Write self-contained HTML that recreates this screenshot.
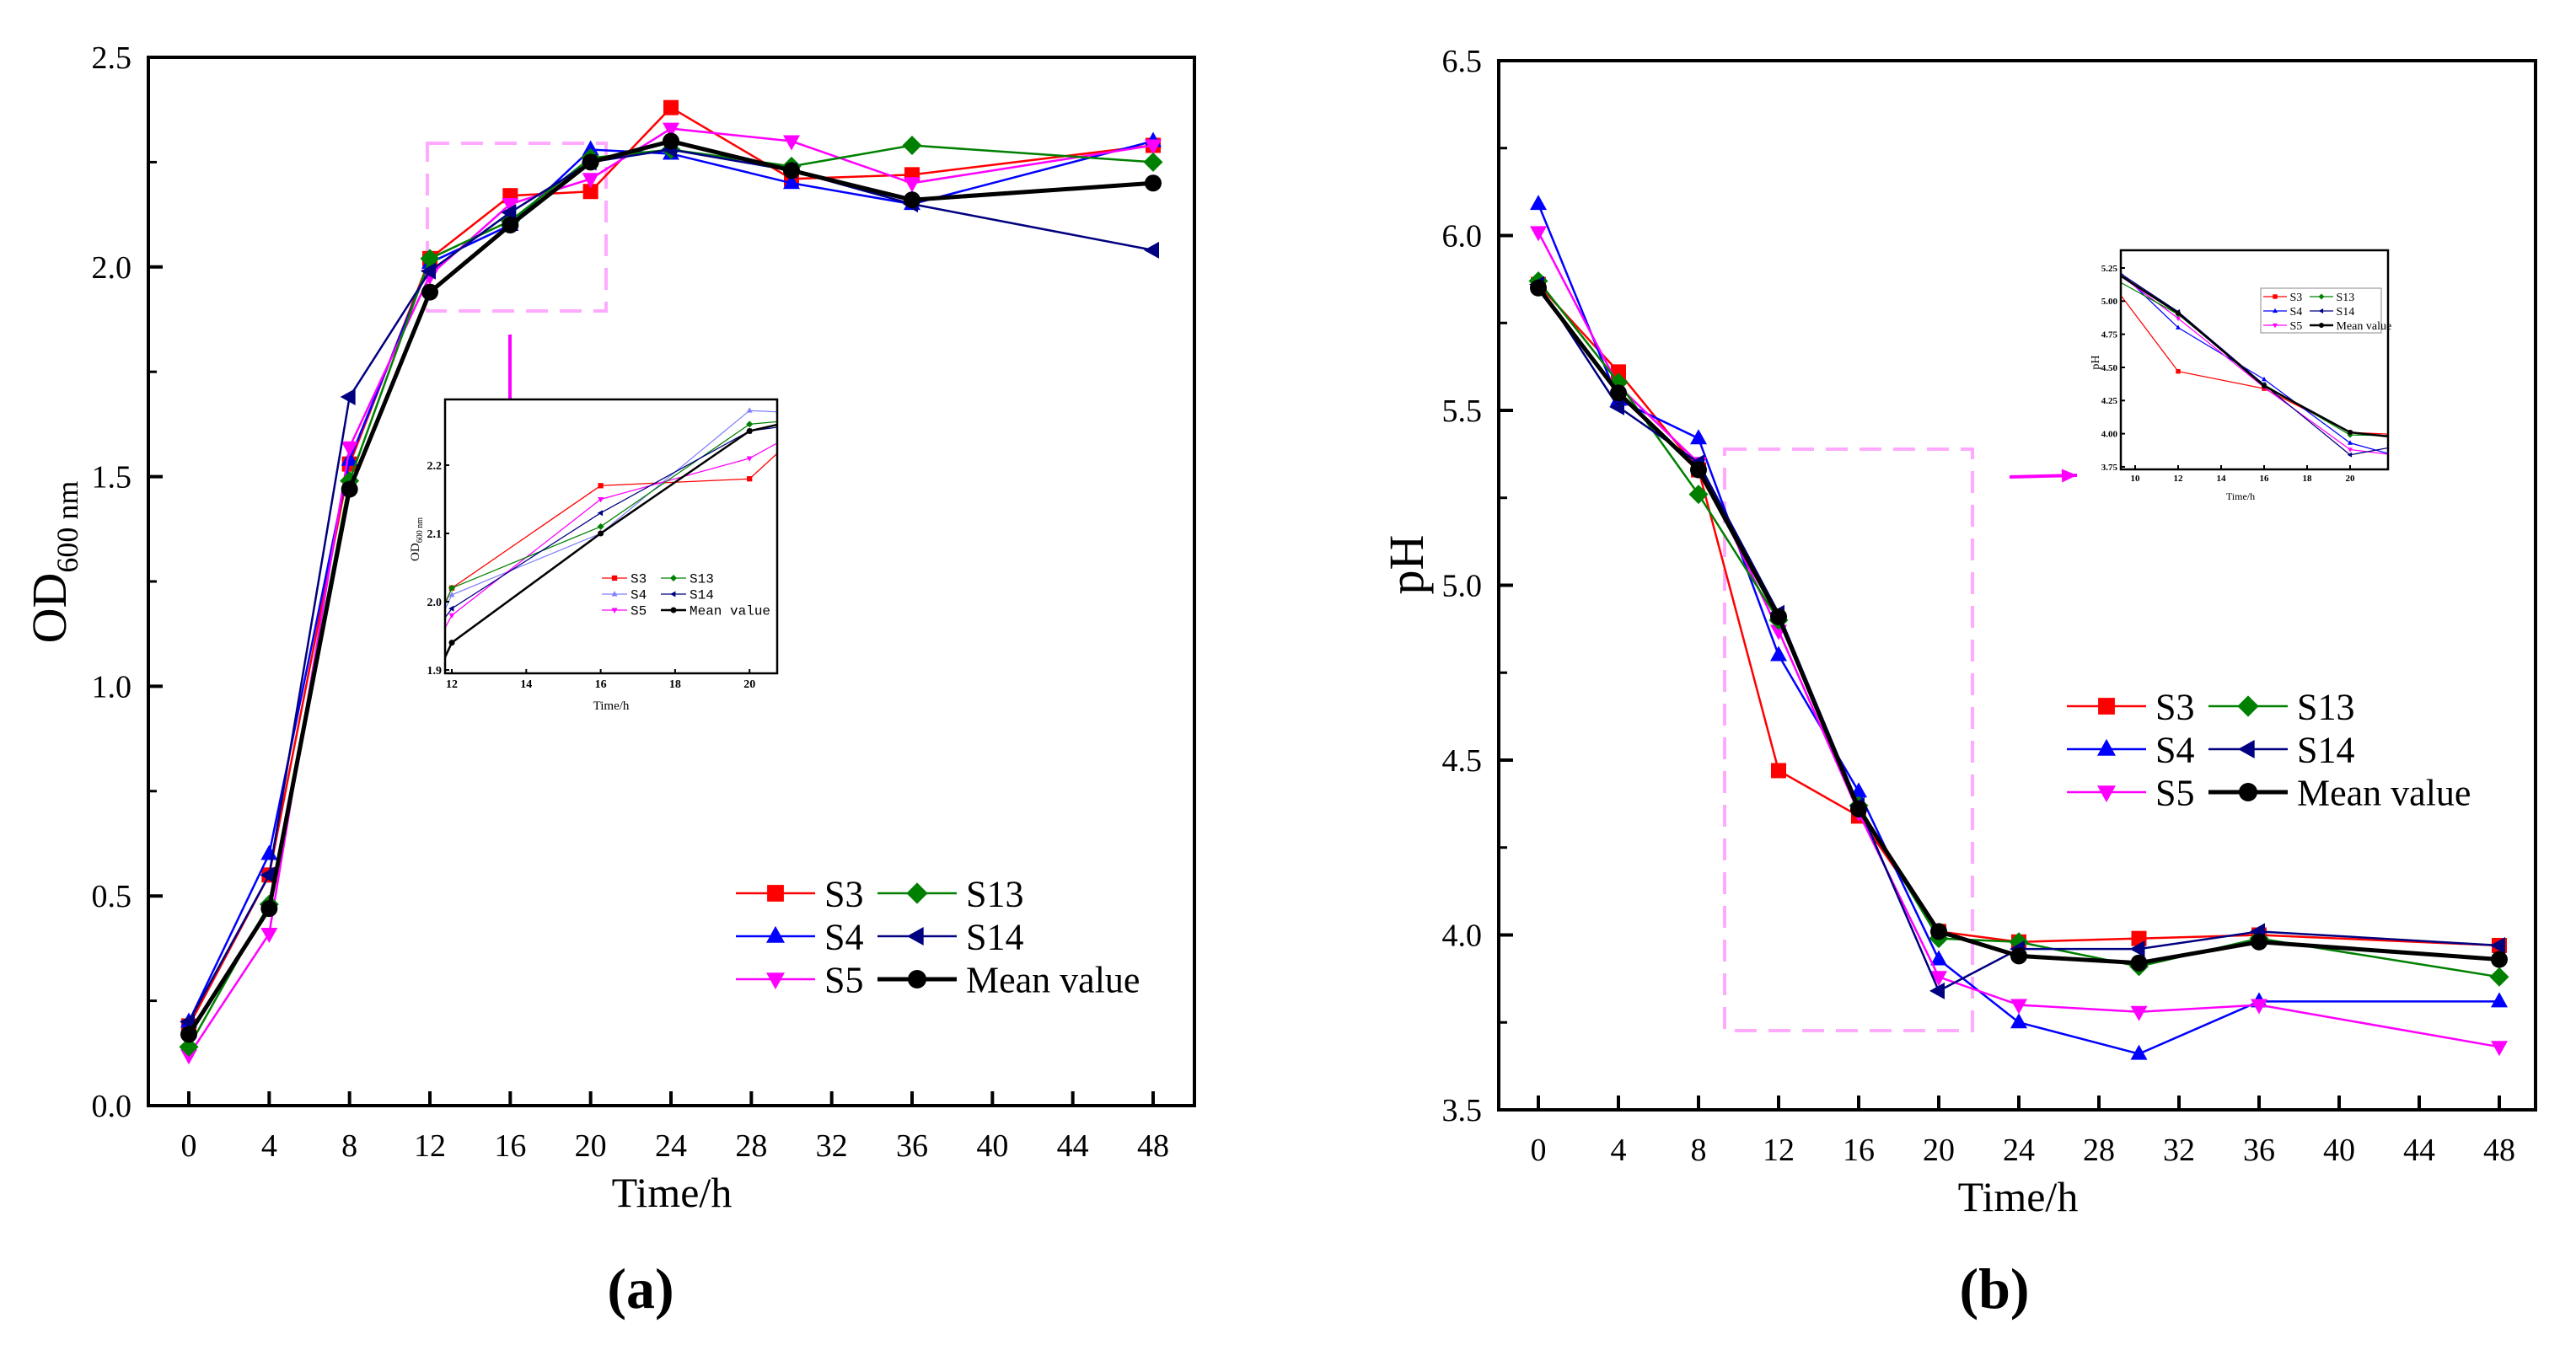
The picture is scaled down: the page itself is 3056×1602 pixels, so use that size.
<!DOCTYPE html>
<html><head><meta charset="utf-8"><style>
html,body{margin:0;padding:0;background:#fff;width:3056px;height:1602px;overflow:hidden;}
svg{display:block;}
</style></head><body>
<svg id="svg" width="3056" height="1602" viewBox="0 0 3056 1602" xmlns="http://www.w3.org/2000/svg" font-family="'Liberation Serif', serif">
<defs>
<clipPath id="clipA"><rect x="528" y="474" width="394" height="325"/></clipPath>
<clipPath id="clipB"><rect x="2516" y="297" width="317" height="260"/></clipPath>
</defs>
<g id="root" font-family="'Liberation Serif', serif"></g>
</svg>
<script>
const times = [0,4,8,12,16,20,24,30,36,48];
const seriesNames = ["S3","S4","S5","S13","S14","Mean value"];
const odS3 = [0.19,0.55,1.53,2.02,2.17,2.18,2.38,2.21,2.22,2.29];
const odS4 = [0.20,0.60,1.54,2.01,2.10,2.28,2.27,2.20,2.15,2.30];
const odS5 = [0.12,0.41,1.57,1.98,2.15,2.21,2.33,2.30,2.20,2.29];
const odS13 = [0.14,0.48,1.49,2.02,2.11,2.26,2.28,2.24,2.29,2.25];
const odS14 = [0.20,0.55,1.69,1.99,2.13,2.25,2.28,2.23,2.15,2.04];
const odMean = [0.17,0.47,1.47,1.94,2.10,2.25,2.30,2.23,2.16,2.20];
const phS3 = [5.86,5.61,5.33,4.47,4.34,4.01,3.98,3.99,4.00,3.97];
const phS4 = [6.09,5.53,5.42,4.80,4.41,3.93,3.75,3.66,3.81,3.81];
const phS5 = [6.01,5.57,5.35,4.87,4.35,3.88,3.80,3.78,3.80,3.68];
const phS13 = [5.87,5.58,5.26,4.90,4.37,3.99,3.98,3.91,3.99,3.88];
const phS14 = [5.86,5.51,5.35,4.92,4.37,3.84,3.96,3.96,4.01,3.97];
const phMean = [5.85,5.55,5.33,4.91,4.36,4.01,3.94,3.92,3.98,3.93];
const xTicks = [0,4,8,12,16,20,24,28,32,36,40,44,48];
const odTicks = ["0.0","0.5","1.0","1.5","2.0","2.5"];
const phTicks = ["3.5","4.0","4.5","5.0","5.5","6.0","6.5"];
const odInsetTicks = ["1.9","2.0","2.1","2.2"];
const phInsetTicks = ["3.75","4.00","4.25","4.50","4.75","5.00","5.25"];
const insetXTicksA = [12,14,16,18,20];
const insetXTicksB = [10,12,14,16,18,20];

const NS="http://www.w3.org/2000/svg";
const root=document.getElementById('root');
const SERIF="'Liberation Serif', serif";
function el(tag,attrs,parent){const e=document.createElementNS(NS,tag);for(const k in attrs)e.setAttribute(k,attrs[k]);(parent||root).appendChild(e);return e;}
const styles=[
 {c:"#ff0000",m:"square",w:2.5},{c:"#0000ff",m:"up",w:2.5},{c:"#ff00ff",m:"down",w:2.5},
 {c:"#008000",m:"diamond",w:2.5},{c:"#000080",m:"left",w:2.5},{c:"#000000",m:"circle",w:5}];
function marker(g,type,x,y,s,color){
  let e;
  if(type==="circle") e=el('circle',{cx:x,cy:y,r:s},g);
  else if(type==="square") e=el('rect',{x:x-s*0.9,y:y-s*0.9,width:s*1.8,height:s*1.8},g);
  else {let p;
    if(type==="up") p=[[x,y-s*1.1],[x+s,y+s*0.7],[x-s,y+s*0.7]];
    if(type==="down") p=[[x,y+s*1.1],[x+s,y-s*0.7],[x-s,y-s*0.7]];
    if(type==="left") p=[[x-s*1.1,y],[x+s*0.7,y-s],[x+s*0.7,y+s]];
    if(type==="diamond") p=[[x,y-s*1.15],[x+s*1.15,y],[x,y+s*1.15],[x-s*1.15,y]];
    e=el('polygon',{points:p.map(q=>q.join(',')).join(' ')},g);}
  e.setAttribute('fill',color);
  return e;
}
function text(g,x,y,str,size,anchor,extra){const t=el('text',Object.assign({x:x,y:y,'font-size':size,'text-anchor':anchor||'middle',fill:'#000','font-family':SERIF},extra||{}),g);t.textContent=str;return t;}

function drawSeries(g,xs,ys,data,ms,lwScale,clip,light){
  const sg=el('g',clip?{'clip-path':clip}:{},g);
  
  
  data.forEach((vals,i)=>{
    const st=styles[i];
    let col=st.c; if(light&&i===1) col="#8080ff";
    const pts=times.map((t,j)=>xs(t)+','+ys(vals[j])).join(' ');
    const pl=el('polyline',{points:pts,fill:'none',stroke:col,'stroke-width':st.w*lwScale},sg);
    
    
    times.forEach((t,j)=>{const m=marker(sg,st.m,xs(t),ys(vals[j]),ms,col);
      
      });
  });
}
function legend(g,x0,x1,y0,dy,lineLen,ms,fs,lwScale,light,font){
  seriesNames.forEach((n,i)=>{
    const col=i<3?x0:x1;
    const row=i%3;
    const y=y0+row*dy;
    const st=styles[i];
    let c=st.c; if(light&&i===1) c="#8080ff";
    const lg=el('g',{},g);
    
    
    el('line',{x1:col,y1:y,x2:col+lineLen,y2:y,stroke:c,'stroke-width':st.w*lwScale},lg);
    marker(lg,st.m,col+lineLen/2,y,ms,c);
    const t=text(lg,col+lineLen+fs*0.25,y+fs*0.35,n,fs,'start');
    if(font) t.setAttribute('font-family',font);
  });
}

function mainChart(cfg){
  const g=el('g',{});
  
  
  const xs=t=>cfg.x0px+(t-0)*(cfg.x48px-cfg.x0px)/48;
  const ys=v=>cfg.bot-(v-cfg.ymin)*(cfg.bot-cfg.top)/(cfg.ymax-cfg.ymin);
  xTicks.forEach(t=>{el('line',{x1:xs(t),y1:cfg.bot,x2:xs(t),y2:cfg.bot-17,stroke:'#000','stroke-width':4},g);
    text(g,xs(t),cfg.bot+60,String(t),38);});
  cfg.yticks.forEach(s=>{const v=parseFloat(s);el('line',{x1:cfg.left,y1:ys(v),x2:cfg.left+17,y2:ys(v),stroke:'#000','stroke-width':4},g);
    text(g,cfg.left-20,ys(v)+13,s,38,'end');});
  for(let v=cfg.ymin+0.25;v<cfg.ymax;v+=0.5){el('line',{x1:cfg.left,y1:ys(v),x2:cfg.left+10,y2:ys(v),stroke:'#000','stroke-width':3},g);}
  el('rect',{x:cfg.left,y:cfg.top,width:cfg.right-cfg.left,height:cfg.bot-cfg.top,fill:'none',stroke:'#000','stroke-width':4},g);
  const db=el('rect',Object.assign({fill:'none',stroke:'#ffaaff','stroke-width':4,'stroke-dasharray':'26,14'},cfg.dash),g);
  
  
  drawSeries(g,xs,ys,cfg.data,10,1,null,false);
  legend(g,cfg.lg[0],cfg.lg[1],cfg.lg[2],51,94,11,44,1,false);
  return g;
}

const gA=mainChart({name:'chart-a-od600',left:176,right:1417,top:68,bot:1312,x0px:224,x48px:1368,ymin:0,ymax:2.5,yticks:odTicks,
  dash:{x:507,y:170,width:212,height:199},data:[odS3,odS4,odS5,odS13,odS14,odMean],lg:[873,1041,1060]});
const xtA=text(gA,797,1432,"Time/h",50);

const ytA=el('text',{x:0,y:0,'font-size':58,'text-anchor':'middle','font-family':SERIF,transform:'translate(78,667) rotate(-90)'},gA);
ytA.innerHTML='OD<tspan font-size="36" dy="14">600 nm</tspan>';

text(gA,760,1552,"(a)",68,'middle',{'font-weight':'bold'});

const gB=mainChart({name:'chart-b-ph',left:1778,right:3008,top:72,bot:1317,x0px:1825,x48px:2965,ymin:3.5,ymax:6.5,yticks:phTicks,
  dash:{x:2046,y:533,width:294,height:690},data:[phS3,phS4,phS5,phS13,phS14,phMean],lg:[2452,2620,838]});
const xtB=text(gB,2394,1437,"Time/h",50);

const ytB=text(gB,0,0,"pH",58,'middle',{transform:'translate(1688,670) rotate(-90)'});

text(gB,2366,1552,"(b)",68,'middle',{'font-weight':'bold'});

function arrow(x1,y1,x2,y2){
  const a=el('g',{});
  
  
  el('line',{x1:x1,y1:y1,x2:x2,y2:y2,stroke:'#ff00ff','stroke-width':4},a);
  const dx=x2-x1,dy=y2-y1,L=Math.hypot(dx,dy),ux=dx/L,uy=dy/L;
  const bx=x2-ux*18,by=y2-uy*18;
  el('polygon',{points:`${x2},${y2} ${bx-uy*8},${by+ux*8} ${bx+uy*8},${by-ux*8}`,fill:'#ff00ff'},a);
}
arrow(605,397,605,492);
arrow(2384,566,2464,564);

function inset(cfg){
  const g=el('g',{});
  
  
  el('rect',{x:cfg.l,y:cfg.t,width:cfg.r-cfg.l,height:cfg.b-cfg.t,fill:'#fff'},g);
  const xs=t=>cfg.xa+(t-cfg.ta)*cfg.kx;
  const ys=v=>cfg.ya-(v-cfg.va)*cfg.ky;
  drawSeries(g,xs,ys,cfg.data,cfg.ms,cfg.lw,cfg.clip,cfg.light);
  cfg.xt.forEach(t=>{el('line',{x1:xs(t),y1:cfg.b,x2:xs(t),y2:cfg.b-5,stroke:'#000','stroke-width':2},g);
    text(g,xs(t),cfg.b+cfg.fs+3,String(t),cfg.fs,'middle',{'font-weight':'bold'});});
  cfg.yt.forEach(s=>{const v=parseFloat(s);el('line',{x1:cfg.l,y1:ys(v),x2:cfg.l+5,y2:ys(v),stroke:'#000','stroke-width':2},g);
    text(g,cfg.l-4,ys(v)+cfg.fs*0.35,s,cfg.fs,'end',{'font-weight':'bold'});});
  el('rect',{x:cfg.l,y:cfg.t,width:cfg.r-cfg.l,height:cfg.b-cfg.t,fill:'none',stroke:'#000','stroke-width':2.5},g);
  return {g,xs,ys};
}
const iA=inset({name:'inset-a',l:528,r:922,t:474,b:799,xa:536,ta:12,kx:44.15,ya:552,va:2.2,ky:810,
  data:[odS3,odS4,odS5,odS13,odS14,odMean],ms:3.5,lw:0.5,clip:'url(#clipA)',light:true,xt:insetXTicksA,yt:odInsetTicks,fs:14});
legend(iA.g,714,784,686,19,30,3.5,16,0.5,true,"'Liberation Mono', monospace");
text(iA.g,725,842,"Time/h",15);
const iyA=el('text',{x:0,y:0,'font-size':15,'text-anchor':'middle','font-family':SERIF,transform:'translate(497,640) rotate(-90)'},iA.g);
iyA.innerHTML='OD<tspan font-size="10" dy="4">600 nm</tspan>';

const iB=inset({name:'inset-b',l:2516,r:2833,t:297,b:557,xa:2533,ta:10,kx:25.5,ya:318,va:5.25,ky:157.3,
  data:[phS3,phS4,phS5,phS13,phS14,phMean],ms:3,lw:0.5,clip:'url(#clipB)',light:false,xt:insetXTicksB,yt:phInsetTicks,fs:11});
el('rect',{x:2682,y:342,width:143,height:53,fill:'#fff',stroke:'#888','stroke-width':1},iB.g);
legend(iB.g,2685,2740,352,17,28,3,14,0.5,false);
text(iB.g,2658,593,"Time/h",12);
text(iB.g,0,0,"pH",14,'middle',{transform:'translate(2490,430) rotate(-90)'});
</script>
</body></html>
